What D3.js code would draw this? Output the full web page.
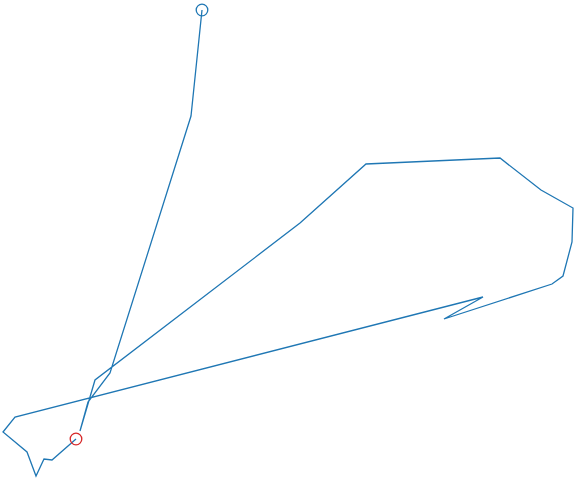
<!DOCTYPE html>
<html><head><meta charset="utf-8">
<script src="https://cdn.jsdelivr.net/npm/d3@7"></script>
<style>html,body{margin:0;padding:0;background:#fff;}</style>
</head><body>
<svg id="chart" width="576" height="479"></svg>
<script>
// Track positions (arbitrary plot units, y upward)
const xValues = [202, 191, 110, 88, 80, 95, 300, 366, 500, 541, 573, 572, 563, 552, 444, 483, 15, 3, 27, 36, 44, 52, 76];
const yValues = [469, 363, 106, 77, 48, 99, 256, 315, 321, 289, 271, 237, 203, 195, 160, 182, 62, 47, 27, 3, 20, 19, 40];

const data = xValues.map((x, i) => ({x, y: yValues[i]}));
const svg = d3.select("#chart");

const x = d3.scaleLinear().domain(d3.extent(xValues)).range([3, 573]);
const y = d3.scaleLinear().domain(d3.extent(yValues)).range([476, 10]);

const line = d3.line().x(d => x(d.x)).y(d => y(d.y));
svg.append("path").datum(data)
  .attr("d", line).attr("fill", "none")
  .attr("stroke", "#1f77b4").attr("stroke-width", 1.3)
  .attr("stroke-linejoin", "miter");

svg.append("circle").attr("cx", x(data[0].x)).attr("cy", y(data[0].y)).attr("r", 5.8)
  .attr("fill", "none").attr("stroke", "#1f77b4").attr("stroke-width", 1.3);
const last = data[data.length - 1];
svg.append("circle").attr("cx", x(last.x)).attr("cy", y(last.y)).attr("r", 5.8)
  .attr("fill", "none").attr("stroke", "#d62728").attr("stroke-width", 1.3);
</script>
</body></html>
